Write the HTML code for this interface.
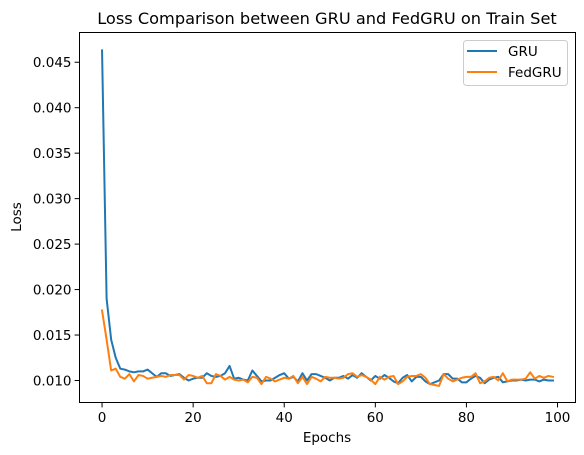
<!DOCTYPE html>
<html><head><meta charset="utf-8"><style>
body{margin:0;background:#fff}
svg{display:block;font-family:"DejaVu Sans","Liberation Sans",sans-serif}
</style></head><body>
<svg id="c" width="584" height="455" xmlns="http://www.w3.org/2000/svg">
<rect width="584" height="455" fill="#fff"/>
<text x="327" y="24" font-size="16.2" text-anchor="middle">Loss Comparison between GRU and FedGRU on Train Set</text>
<g id="plot"></g>
<rect x="79.5" y="32.5" width="496" height="370" fill="none" stroke="#000" stroke-width="1"/>
<text x="327" y="442" font-size="13.5" text-anchor="middle">Epochs</text>
<text x="21" y="217" font-size="13.5" text-anchor="middle" transform="rotate(-90 21 217)">Loss</text>
<g>
<rect x="463.5" y="40.5" width="104" height="45" rx="3" fill="#fff" fill-opacity="0.8" stroke="#ccc"/>
<line x1="467" y1="51" x2="497" y2="51" stroke="#1f77b4" stroke-width="2"/>
<text x="508" y="56" font-size="13.5">GRU</text>
<line x1="467" y1="72" x2="497" y2="72" stroke="#ff7f0e" stroke-width="2"/>
<text x="508" y="77" font-size="13.5">FedGRU</text>
</g>
</svg>
<script>
const xTicks=[0,20,40,60,80,100];
const yTicks=[0.010,0.015,0.020,0.025,0.030,0.035,0.040,0.045];
const yTickLabels=["0.010","0.015","0.020","0.025","0.030","0.035","0.040","0.045"];
const gru=[0.0463,0.0190,0.0145,0.0125,0.0113,0.0112,0.0110,0.0109,0.0110,0.0110,0.0112,0.0108,0.0104,0.0108,0.0108,0.0105,0.0106,0.0107,0.0103,0.0100,
0.0102,0.0103,0.0103,0.0108,0.0105,0.0104,0.0105,0.0108,0.0116,0.0102,0.0103,0.0101,0.0100,0.0111,0.0105,0.0099,0.0100,0.0100,0.0103,0.0106,
0.0108,0.0102,0.0104,0.0099,0.0108,0.0100,0.0107,0.0107,0.0105,0.0103,0.0100,0.0103,0.0103,0.0105,0.0102,0.0106,0.0103,0.0108,0.0104,0.0100,
0.0105,0.0102,0.0106,0.0103,0.0099,0.0097,0.0103,0.0106,0.0099,0.0104,0.0104,0.0099,0.0096,0.0098,0.0100,0.0107,0.0107,0.0102,0.0102,0.0098,
0.0098,0.0102,0.0105,0.0103,0.0097,0.0101,0.0103,0.0104,0.0098,0.0099,0.0100,0.0100,0.0101,0.0100,0.0101,0.0101,0.0099,0.0101,0.0100,0.0100];
const fedgru=[0.0177,0.0145,0.0111,0.0113,0.0104,0.0102,0.0107,0.0099,0.0106,0.0105,0.0102,0.0103,0.0104,0.0105,0.0104,0.0106,0.0106,0.0106,0.0101,0.0106,
0.0105,0.0103,0.0105,0.0097,0.0097,0.0107,0.0105,0.0101,0.0104,0.0101,0.0100,0.0101,0.0098,0.0104,0.0103,0.0096,0.0104,0.0102,0.0099,0.0101,
0.0103,0.0102,0.0105,0.0097,0.0104,0.0096,0.0104,0.0102,0.0099,0.0104,0.0103,0.0103,0.0102,0.0103,0.0107,0.0108,0.0104,0.0106,0.0104,0.0101,
0.0096,0.0104,0.0101,0.0104,0.0105,0.0096,0.0099,0.0104,0.0105,0.0105,0.0107,0.0103,0.0096,0.0095,0.0094,0.0107,0.0102,0.0099,0.0101,0.0103,
0.0104,0.0104,0.0108,0.0097,0.0099,0.0103,0.0104,0.0100,0.0108,0.0099,0.0101,0.0101,0.0101,0.0102,0.0109,0.0102,0.0105,0.0103,0.0105,0.0104];
const X0=-4.95,X1=103.95,Y0=0.00758,Y1=0.04827;
const L=79.5,R=575.5,T=32.5,B=402.5;
function sx(v){return L+(v-X0)/(X1-X0)*(R-L);}
function sy(v){return B-(v-Y0)/(Y1-Y0)*(B-T);}
const NS="http://www.w3.org/2000/svg";
const g=document.getElementById('plot');
function mk(tag,attrs){const e=document.createElementNS(NS,tag);for(const k in attrs)e.setAttribute(k,attrs[k]);g.appendChild(e);return e;}
xTicks.forEach(t=>{
  const l=mk('line',{x1:sx(t),x2:sx(t),y1:B,y2:B+4.9,stroke:'#000'});
  
  
  const tx=mk('text',{x:sx(t),y:B+19.5,'font-size':13.5,'text-anchor':'middle'});
  tx.textContent=t;
  
  
});
yTicks.forEach((t,i)=>{
  const l=mk('line',{x1:L-4.9,x2:L,y1:sy(t),y2:sy(t),stroke:'#000'});
  
  
  const tx=mk('text',{x:L-8,y:sy(t)+5,'font-size':13.5,'text-anchor':'end'});
  tx.textContent=yTickLabels[i];
  
  
});
function line(d,color,name){
  const p=mk('polyline',{points:d.map((v,i)=>sx(i)+','+sy(v)).join(' '),fill:'none',stroke:color,'stroke-width':2,'stroke-linejoin':'round','stroke-linecap':'square'});
  
  
}
line(gru,'#1f77b4','gru-line');
line(fedgru,'#ff7f0e','fedgru-line');
</script>
</body></html>
